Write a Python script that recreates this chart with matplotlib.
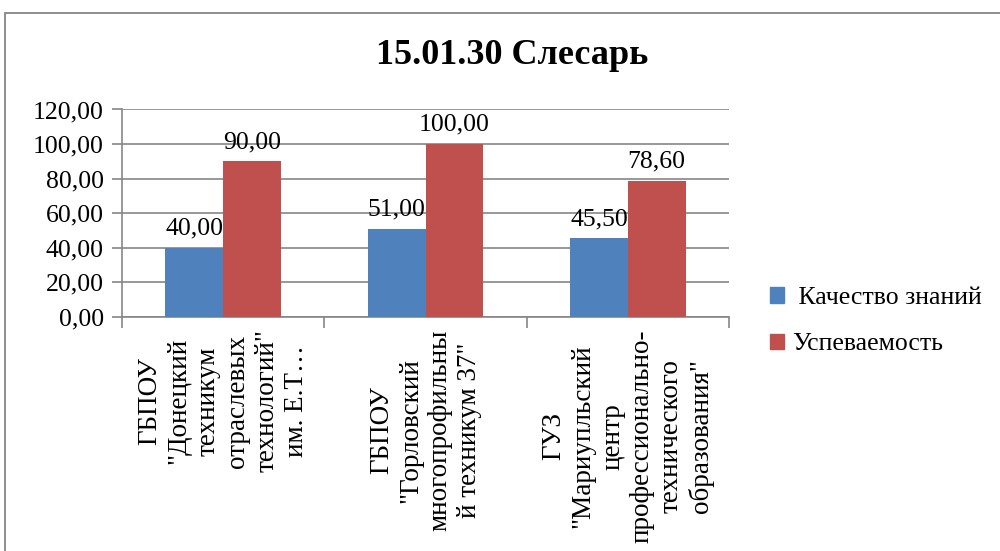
import matplotlib
matplotlib.use("Agg")
import matplotlib.pyplot as plt
from matplotlib.patches import Rectangle, Patch
import numpy as np

# data
categories = [
    'ГБПОУ\n"Донецкий\nтехникум\nотраслевых\nтехнологий"\nим. Е.Т…',
    'ГБПОУ\n"Горловский\nмногопрофильны\nй техникум 37"',
    'ГУЗ\n"Мариупльский\nцентр\nпрофессионально-\nтехнического\nобразования"',
]
kachestvo = [40.00, 51.00, 45.50]
uspevaemost = [90.00, 100.00, 78.60]
series_names = ["Качество знаний", "Успеваемость"]
yticks = [0, 20, 40, 60, 80, 100, 120]

plt.rcParams["font.family"] = ["Liberation Serif", "DejaVu Serif"]

blue = "#4F81BD"
red = "#C0504D"
grid_c = "#868686"
fs = 18.5

fig = plt.figure(figsize=(10, 5.51), dpi=100)
ax = fig.add_axes([0.122, 0.4247, 0.607, 0.3766])

# outer chart frame (cropped on the right and bottom)
fig.patches.append(Rectangle((0.005, -0.1), 1.2, 1.076, transform=fig.transFigure,
                             fill=False, edgecolor=grid_c, lw=1.3))

x = np.arange(len(categories))
w = 0.2857
b1 = ax.bar(x - w / 2, kachestvo, w, color=blue, zorder=3)
b2 = ax.bar(x + w / 2, uspevaemost, w, color=red, zorder=3)

for bars, vals in [(b1, kachestvo), (b2, uspevaemost)]:
    for r, v in zip(bars, vals):
        ax.annotate(f"{v:.2f}".replace(".", ","), (r.get_x() + r.get_width() / 2, v),
                    xytext=(0, 6), textcoords="offset points",
                    ha="center", va="bottom", fontsize=fs, color="black", zorder=4)

ax.set_xlim(-0.5, len(categories) - 0.5)
ax.set_ylim(0, 120)
ax.set_yticks(yticks)
ax.set_yticklabels([f"{t:.2f}".replace(".", ",") for t in yticks], fontsize=fs)
ax.yaxis.grid(True, color=grid_c, lw=1.2, zorder=0)
ax.tick_params(axis="y", length=7, color=grid_c, width=1.2, pad=6)

ax.set_xticks(x)
ax.set_xticklabels(categories, rotation=90, fontsize=19.5, ha="center", va="top",
                   multialignment="center", linespacing=1.23)
ax.tick_params(axis="x", which="major", length=0, pad=9)
ax.set_xticks(np.arange(len(categories) + 1) - 0.5, minor=True)
ax.tick_params(axis="x", which="minor", length=8, color=grid_c, width=1.2)

for s in ["top", "right"]:
    ax.spines[s].set_visible(False)
ax.spines["left"].set_color(grid_c)
ax.spines["bottom"].set_color(grid_c)
ax.spines["left"].set_linewidth(1.2)
ax.spines["bottom"].set_linewidth(1.2)

fig.text(0.512, 0.9, "15.01.30 Слесарь", ha="center", va="center",
         fontsize=26, fontweight="bold")

handles = [Patch(color=blue, label=" " + series_names[0]), Patch(color=red, label=series_names[1])]
fig.legend(handles=handles, loc="center left", bbox_to_anchor=(0.770, 0.417),
           frameon=False, fontsize=fs, handlelength=0.55, handleheight=0.55,
           handletextpad=0.3, labelspacing=0.95, borderpad=0, borderaxespad=0)

fig.savefig("out.png", dpi=100)
